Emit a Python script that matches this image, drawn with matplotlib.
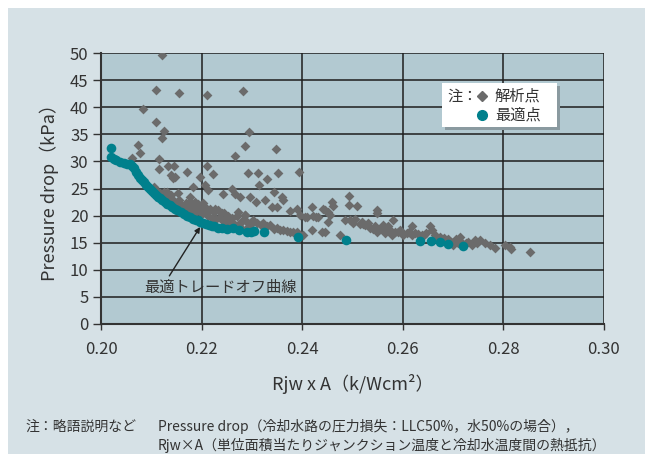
import numpy as np
import matplotlib.pyplot as plt
from matplotlib.patches import Rectangle
from matplotlib.lines import Line2D

plt.rcParams['font.family'] = ['Noto Sans CJK JP', 'DejaVu Sans']

# analysis points (解析点): scattered outliers
outlier_x = [0.2121, 0.2109, 0.2156, 0.2210, 0.2282, 0.2084, 0.2109, 0.2125, 0.2122,
             0.2294, 0.2074, 0.2078, 0.2287, 0.2348, 0.2062, 0.2266, 0.2115, 0.2115,
             0.2134, 0.2145, 0.2210, 0.2170, 0.2139, 0.2144, 0.2197, 0.2223, 0.2293,
             0.2313, 0.2352, 0.2394, 0.2315, 0.2331, 0.2182, 0.2207, 0.2213, 0.2242,
             0.2260, 0.2266, 0.2276, 0.2296, 0.2343, 0.2359, 0.2362, 0.2309, 0.2326,
             0.2339, 0.2349, 0.2376, 0.2389, 0.2420, 0.2441, 0.2452, 0.2459, 0.2462,
             0.2494, 0.2494, 0.2508, 0.2548, 0.2548, 0.2445, 0.2455, 0.2405, 0.2428,
             0.2420, 0.2439, 0.2475, 0.2581, 0.2147, 0.2131, 0.2154]
outlier_y = [49.6, 43.2, 42.7, 42.3, 42.9, 39.6, 37.3, 35.6, 34.4,
             35.5, 33.0, 31.5, 32.9, 32.3, 30.6, 31.0, 30.4, 28.6,
             29.2, 29.2, 29.2, 28.1, 27.5, 26.9, 27.2, 27.7, 27.8,
             27.9, 27.9, 28.1, 25.6, 26.7, 25.3, 25.6, 24.7, 24.0,
             25.0, 24.0, 23.5, 23.5, 24.4, 23.5, 22.8, 22.6, 22.9,
             21.5, 21.5, 20.9, 21.3, 21.5, 21.3, 20.7, 22.6, 21.7,
             23.7, 22.0, 21.7, 21.0, 20.4, 21.0, 20.1, 19.8, 19.8,
             17.3, 17.0, 16.4, 19.2, 27.2, 24.4, 24.1]

# analysis points (解析点): dense band above the trade-off curve
band_x = [0.2105, 0.2112, 0.2118, 0.2125, 0.2130, 0.2135, 0.2140, 0.2145, 0.2150,
          0.2155, 0.2160, 0.2163, 0.2168, 0.2172, 0.2176, 0.2180, 0.2185, 0.2188,
          0.2192, 0.2196, 0.2200, 0.2204, 0.2208, 0.2212, 0.2216, 0.2220, 0.2224,
          0.2228, 0.2232, 0.2236, 0.2240, 0.2244, 0.2248, 0.2252, 0.2256, 0.2260,
          0.2265, 0.2270, 0.2275, 0.2280, 0.2286, 0.2290, 0.2295, 0.2303, 0.2303,
          0.2323, 0.2336, 0.2349, 0.2362, 0.2376, 0.2389, 0.2402, 0.2396, 0.2409,
          0.2422, 0.2432, 0.2452, 0.2445, 0.2485, 0.2495, 0.2505, 0.2518, 0.2531,
          0.2545, 0.2535, 0.2548, 0.2561, 0.2575, 0.2591, 0.2601, 0.2561, 0.2571,
          0.2565, 0.2578, 0.2594, 0.2608, 0.2618, 0.2618, 0.2654, 0.2658, 0.2647,
          0.2664, 0.2674, 0.2681, 0.2714, 0.2717, 0.2700, 0.2730, 0.2744, 0.2737,
          0.2747, 0.2753, 0.2763, 0.2773, 0.2783, 0.2803, 0.2813, 0.2816, 0.2853,
          0.2273, 0.2286, 0.2187, 0.2203, 0.2227, 0.2240, 0.2247, 0.2177, 0.2630,
          0.2640, 0.2690, 0.2695, 0.2710, 0.2520, 0.2500,
          0.2515, 0.2525, 0.2540, 0.2555, 0.2585, 0.2598, 0.2612, 0.2625, 0.2638,
          0.2668, 0.2685, 0.2705, 0.2725, 0.2310, 0.2318, 0.2330, 0.2343, 0.2356,
          0.2369, 0.2382, 0.2250, 0.2258, 0.2268, 0.2278, 0.2290]
band_y = [25.2, 24.6, 24.2, 24.4, 23.6, 23.3, 23.8, 22.7, 22.4,
          22.9, 22.0, 21.5, 22.3, 21.2, 22.6, 21.0, 21.8, 20.6,
          22.1, 21.3, 20.3, 21.8, 20.9, 20.0, 21.3, 19.6, 20.6,
          19.4, 21.0, 19.8, 19.2, 20.4, 19.0, 20.0, 18.8, 19.6,
          18.5, 19.9, 18.4, 19.0, 20.1, 18.8, 18.0, 19.2, 18.9,
          18.6, 18.3, 17.8, 17.3, 17.0, 17.0, 16.4, 20.1, 19.8,
          19.9, 19.8, 18.9, 17.0, 19.2, 19.2, 19.3, 18.9, 18.6,
          18.0, 17.7, 17.0, 17.3, 17.3, 17.0, 16.4, 18.3, 18.0,
          16.7, 16.4, 17.3, 16.7, 18.0, 16.4, 18.0, 17.3, 16.7,
          16.4, 16.1, 15.8, 16.1, 14.9, 14.6, 15.2, 15.5, 14.6,
          14.9, 15.5, 14.9, 14.6, 14.0, 14.6, 14.2, 13.8, 13.2,
          20.7, 20.1, 22.6, 22.3, 21.3, 20.4, 19.5, 23.5, 16.6,
          16.3, 15.6, 15.2, 15.0, 18.4, 18.7,
          18.4, 18.2, 17.6, 17.6, 17.0, 16.8, 16.9, 16.7, 16.4,
          15.8, 15.4, 15.6, 15.0, 18.7, 18.2, 18.0, 17.6, 17.4,
          17.1, 17.0, 18.4, 18.3, 18.1, 17.8, 17.6]

# optimal points (最適点)
opt_x = [0.2020, 0.2020, 0.2025, 0.2030, 0.2037, 0.2045, 0.2052, 0.2057, 0.2062,
         0.2066, 0.2070, 0.2074, 0.2078, 0.2082, 0.2086, 0.2090, 0.2094, 0.2098,
         0.2102, 0.2106, 0.2110, 0.2114, 0.2118, 0.2122, 0.2127, 0.2132, 0.2137,
         0.2142, 0.2147, 0.2152, 0.2159, 0.2165, 0.2171, 0.2177, 0.2183, 0.2188,
         0.2192, 0.2197, 0.2202, 0.2208, 0.2214, 0.2220, 0.2225, 0.2232, 0.2241,
         0.2250, 0.2262, 0.2274, 0.2290, 0.2298, 0.2305, 0.2325, 0.2392, 0.2488,
         0.2634, 0.2656, 0.2674, 0.2689, 0.2719]
opt_y = [32.5, 30.9, 30.5, 30.2, 29.9, 29.7, 29.6, 29.5, 29.2,
         28.7, 28.1, 27.5, 27.0, 26.6, 26.2, 25.7, 25.3, 24.9,
         24.5, 24.2, 23.8, 23.5, 23.2, 22.9, 22.5, 22.2, 21.9,
         21.6, 21.3, 21.0, 20.7, 20.3, 20.0, 19.7, 19.4, 19.2,
         19.1, 18.9, 18.7, 18.5, 18.3, 18.1, 18.0, 17.8, 17.7,
         17.6, 17.8, 17.3, 17.0, 17.0, 17.1, 17.0, 16.0, 15.5,
         15.3, 15.4, 15.2, 14.8, 14.4]

gray = '#6b6b6b'
teal = '#00808c'

fig = plt.figure(figsize=(6.45, 4.54), dpi=100)
fig.patches.append(Rectangle((8 / 645, 0), 1, 1 - 8 / 454, transform=fig.transFigure,
                             facecolor='#d6e1e6', edgecolor='none', zorder=-10))

ax = fig.add_axes([101 / 645, 130 / 454, 503 / 645, 271 / 454])
ax.set_facecolor('#b2c9d1')

ax.scatter(outlier_x + band_x, outlier_y + band_y, marker='D', s=25, color=gray,
           linewidths=0, zorder=3)
ax.scatter(opt_x, opt_y, marker='o', s=48, color=teal, linewidths=0, zorder=4)

ax.set_xlim(0.20, 0.30)
ax.set_ylim(0, 50)
ax.set_xticks(np.arange(0.20, 0.301, 0.02))
ax.set_xticklabels(['0.20', '0.22', '0.24', '0.26', '0.28', '0.30'])
ax.set_yticks(np.arange(0, 51, 5))
ax.grid(True, color='#1e1e1e', linewidth=1.1)
ax.set_axisbelow(True)
for side in ['top', 'right']:
    ax.spines[side].set_visible(False)
ax.spines['left'].set_color('#333333')
ax.spines['left'].set_linewidth(1.5)
ax.spines['bottom'].set_color('#333333')
ax.spines['bottom'].set_linewidth(1.5)
ax.tick_params(axis='y', length=6, width=1, color='#333333', labelsize=12,
               labelcolor='#333333', pad=3)
ax.tick_params(axis='x', length=4, width=1, color='#333333', labelsize=12,
               labelcolor='#333333', pad=8)

ax.set_ylabel('Pressure drop（kPa）', fontsize=13, color='#333333', labelpad=8)
ax.set_xlabel('Rjw x A（k/Wcm²）', fontsize=13, color='#333333', labelpad=12)

# annotation for the trade-off curve
ax.annotate('最適トレードオフ曲線', xy=(0.2197, 17.9), xytext=(0.2087, 6.8),
            fontsize=11, color='#333333', va='center', ha='left',
            arrowprops=dict(arrowstyle='-|>', color='#222222', lw=1,
                            shrinkA=0, shrinkB=0, mutation_scale=8,
                            relpos=(0.15, 1.0)))

# legend box
bx0, bx1 = (442 - 101) / 503, (557 - 101) / 503
by0, by1 = (324 - 127) / 271, (324 - 83) / 271
ax.add_patch(Rectangle((bx0 + 0.005, by0 - 0.012), bx1 - bx0, by1 - by0,
                       transform=ax.transAxes, facecolor='#8a9aa0',
                       edgecolor='none', zorder=5, clip_on=False))
ax.add_patch(Rectangle((bx0, by0), bx1 - bx0, by1 - by0, transform=ax.transAxes,
                       facecolor='white', edgecolor='none', zorder=6, clip_on=False))
r1 = (324 - 96) / 271
r2 = (324 - 115) / 271
ax.text((447 - 101) / 503, r1, '注：', transform=ax.transAxes, fontsize=11,
        color='#333333', va='center', ha='left', zorder=7)
ax.add_line(Line2D([(482 - 101) / 503], [r1], transform=ax.transAxes, marker='D',
                   markersize=5, color=gray, linestyle='none', zorder=7))
ax.add_line(Line2D([(482 - 101) / 503], [r2], transform=ax.transAxes, marker='o',
                   markersize=7, color=teal, linestyle='none', zorder=7))
ax.text((495 - 101) / 503, r1, '解析点', transform=ax.transAxes, fontsize=11,
        color='#333333', va='center', ha='left', zorder=7)
ax.text((495 - 101) / 503, r2, '最適点', transform=ax.transAxes, fontsize=11,
        color='#333333', va='center', ha='left', zorder=7)

# footnote
fig.text(25 / 645, 1 - 427 / 454, '注：略語説明など', fontsize=10, color='#333333',
         va='center', ha='left')
fig.text(158 / 645, 1 - 427 / 454,
         'Pressure drop（冷却水路の圧力損失：LLC50%，水50%の場合），',
         fontsize=10, color='#333333', va='center', ha='left')
fig.text(158 / 645, 1 - 445 / 454,
         'Rjw×A（単位面積当たりジャンクション温度と冷却水温度間の熱抵抗）',
         fontsize=10, color='#333333', va='center', ha='left')

fig.savefig('out.png', dpi=100)
